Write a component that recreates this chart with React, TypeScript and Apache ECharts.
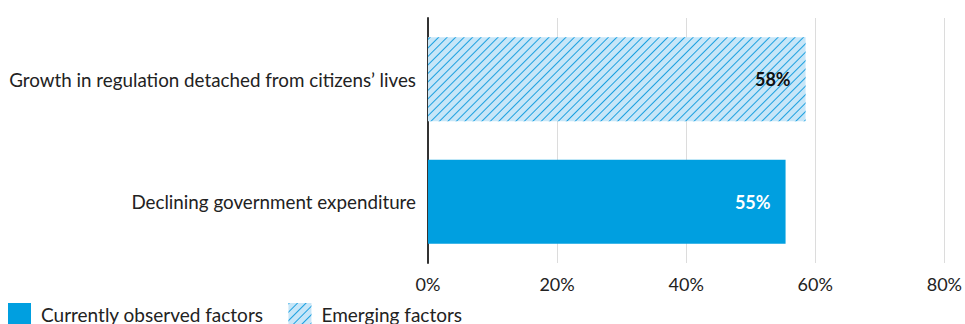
import React, { useEffect, useRef } from "react";
import * as echarts from "echarts";

const categories = ["Declining government expenditure", "Growth in regulation detached from citizens’ lives"];
const seriesNames = ["Currently observed factors", "Emerging factors"];
const currentValues = [55.4, "-"];
const emergingValues = ["-", 58.5];
const valueLabels = ["55%", "58%"];
const xTicks = [0, 20, 40, 60, 80];

const FONT = "Lato";

export default function App() {
  const ref = useRef<HTMLDivElement>(null);
  useEffect(() => {
    document.body.style.margin = "0";
    const chart = echarts.init(ref.current!, null, { renderer: "svg" });
    chart.setOption({
      animation: false,
      textStyle: { fontFamily: FONT },
      grid: { left: 428, right: 19, top: 18, bottom: 61, containLabel: false },
      legend: {
        left: 8,
        top: 303,
        padding: 0,
        itemWidth: 23,
        itemHeight: 23,
        itemGap: 25,
        icon: "rect",
        textStyle: { fontFamily: FONT, fontSize: 19, color: "#222", padding: [0, 0, 0, 5] },
        data: seriesNames,
      },
      xAxis: {
        type: "value",
        min: xTicks[0],
        max: xTicks[xTicks.length - 1],
        interval: 20,
        axisLine: { show: false },
        axisTick: { show: false },
        splitLine: { show: true, lineStyle: { color: "#dcdcdc", width: 1 } },
        axisLabel: {
          formatter: (v: number) => v + "%",
          fontFamily: FONT,
          fontSize: 18,
          color: "#222",
          margin: 12,
        },
      },
      yAxis: {
        type: "category",
        data: categories,
        axisLine: { show: true, lineStyle: { color: "#333", width: 2 } },
        axisTick: { show: false },
        axisLabel: { fontFamily: FONT, fontSize: 18.8, color: "#222", margin: 12 },
      },
      series: [
        {
          name: seriesNames[0],
          type: "bar",
          data: currentValues,
          barWidth: 84,
          barGap: "-100%",
          itemStyle: { color: "#009fe0" },
          label: {
            show: true,
            position: "insideRight",
            distance: 15,
            formatter: (p: any) => valueLabels[p.dataIndex],
            color: "#fff",
            fontWeight: "bold",
            fontSize: 18,
            fontFamily: FONT,
          },
        },
        {
          name: seriesNames[1],
          type: "bar",
          data: emergingValues,
          barWidth: 84,
          barGap: "-100%",
          itemStyle: {
            color: "#c7e6f8",
            decal: {
              symbol: "rect",
              symbolSize: 1,
              dashArrayX: [1, 0],
              dashArrayY: [1, 4.5],
              rotation: -Math.PI / 4,
              color: "#1ba0e0",
            },
          },
          label: {
            show: true,
            position: "insideRight",
            distance: 15,
            formatter: (p: any) => valueLabels[p.dataIndex],
            color: "#111",
            fontWeight: "bold",
            fontSize: 18,
            fontFamily: FONT,
          },
        },
      ],
    });
    return () => chart.dispose();
  }, []);
  return <div ref={ref} style={{ width: 965, height: 324 }} />;
}
